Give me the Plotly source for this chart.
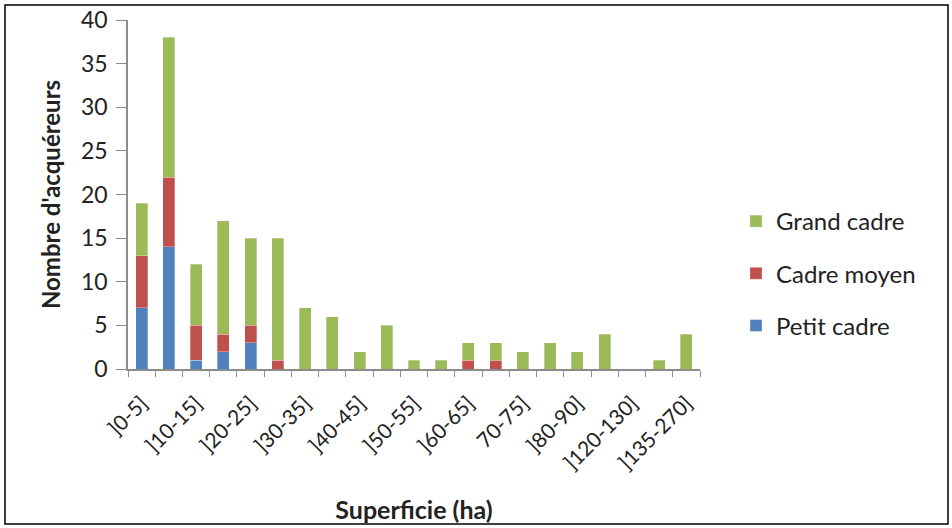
import plotly.graph_objects as go

categories = ["]0-5]", "]5-10]", "]10-15]", "]15-20]", "]20-25]", "]25-30]", "]30-35]",
              "]35-40]", "]40-45]", "]45-50]", "]50-55]", "]55-60]", "]60-65]", "]65-70]",
              "70-75]", "]75-80]", "]80-90]", "]90-120]", "]120-130]", "]130-135]", "]135-270]"]
petit = [7, 14, 1, 2, 3, 0, 0, 0, 0, 0, 0, 0, 0, 0, 0, 0, 0, 0, 0, 0, 0]
moyen = [6, 8, 4, 2, 2, 1, 0, 0, 0, 0, 0, 0, 1, 1, 0, 0, 0, 0, 0, 0, 0]
grand = [6, 16, 7, 13, 10, 14, 7, 6, 2, 5, 1, 1, 2, 2, 2, 3, 2, 4, 0, 1, 4]
tick_text = [c if i % 2 == 0 else "" for i, c in enumerate(categories)]

FONT = "Lato"
W, H = 952, 528
L, R, T, B = 128, 252, 20, 159

fig = go.Figure()
for name, vals, col, rank in [("Petit cadre", petit, "#4F81BD", 3),
                              ("Cadre moyen", moyen, "#C0504D", 2),
                              ("Grand cadre", grand, "#9BBB59", 1)]:
    fig.add_trace(go.Bar(x=categories, y=vals, name=name, legendgroup=name, legendrank=rank,
                         marker=dict(color=col, line=dict(color="rgba(255,255,255,0.6)", width=0.5))))

pw, ph = W - L - R, H - T - B
def px(x): return (x - L) / pw
def py(y): return (H - B - y) / ph

fig.add_shape(type="rect", xref="paper", yref="paper",
              x0=px(5), x1=px(948), y0=py(5), y1=py(524),
              line=dict(color="black", width=1.5), layer="below")

fig.update_layout(
    width=W, height=H,
    margin=dict(l=L, r=R, t=T, b=B, autoexpand=False),
    barmode="stack", bargap=0.56,
    plot_bgcolor="white", paper_bgcolor="white",
    font=dict(family=FONT, color="#222222"),
    legend=dict(x=px(736), y=py(199), xanchor="left", yanchor="top",
                traceorder="grouped", tracegroupgap=18,
                font=dict(size=24, family=FONT, color="#222222"),
                itemwidth=30),
    xaxis=dict(type="category", tickmode="array", tickvals=categories, ticktext=tick_text,
               tickson="boundaries", ticks="outside", ticklen=6, tickcolor="#8c8c8c",
               showline=True, linecolor="#8c8c8c", linewidth=1.5, automargin=False,
               tickangle=-45, ticklabelstandoff=12,
               tickfont=dict(size=21, family=FONT, color="#222222"),
               title=dict(text="<b>Superficie (ha)</b>", font=dict(size=25, family=FONT, color="#222222"),
                          standoff=29),
               showgrid=False),
    yaxis=dict(range=[0, 40], dtick=5, ticks="outside", ticklen=10, tickcolor="#8c8c8c",
               showline=True, linecolor="#8c8c8c", linewidth=1.5, showgrid=False, zeroline=False,
               automargin=False, ticklabelstandoff=4,
               tickfont=dict(size=23, family=FONT, color="#222222"),
               title=dict(text="<b>Nombre d'acquéreurs</b>", font=dict(size=24, family=FONT, color="#222222"),
                          standoff=14)),
)

fig.write_html("out.html", config={"displayModeBar": False},
               post_script="document.body.style.margin='0';document.body.style.overflow='hidden';")
